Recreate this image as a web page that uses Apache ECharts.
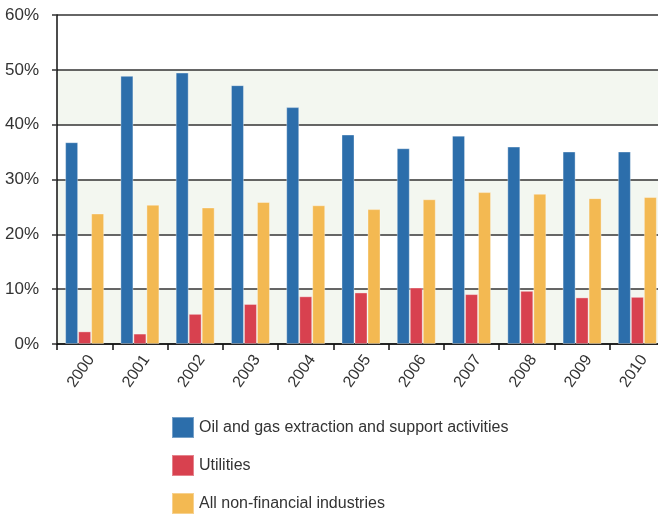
<!DOCTYPE html>
<html>
<head>
<meta charset="utf-8">
<script src="https://cdn.jsdelivr.net/npm/echarts@6/dist/echarts.min.js"></script>
<style>
  html, body { margin: 0; padding: 0; background: #fff; overflow: hidden; }
  /* 图表右侧被裁掉一点，和原图一致 */
  #chart { width: 666px; height: 517px; }
</style>
</head>
<body>
<div id="chart"></div>
<script>
// 年份
const years = ['2000', '2001', '2002', '2003', '2004', '2005', '2006', '2007', '2008', '2009', '2010']
// 各行业比例 (%)
const oilGas = [36.8, 48.9, 49.5, 47.2, 43.2, 38.2, 35.7, 38.0, 36.0, 35.1, 35.1]
const utilities = [2.3, 1.9, 5.5, 7.3, 8.7, 9.4, 10.3, 9.1, 9.7, 8.5, 8.6]
const allNonFin = [23.8, 25.4, 24.9, 25.9, 25.3, 24.6, 26.4, 27.7, 27.4, 26.6, 26.8]
const yTicks = [0, 10, 20, 30, 40, 50, 60]

const font = "'Liberation Sans', Arial, sans-serif"

const mycharts = echarts.init(document.querySelector('#chart'))

function bar(name, data, color) {
  return {
    name: name,
    type: 'bar',
    data: data,
    barWidth: 13,
    barGap: '0%',
    itemStyle: {
      color: color,
      borderColor: 'rgba(255,255,255,0.35)',
      borderWidth: 1
    }
  }
}

const option = {
  animation: false,
  textStyle: { fontFamily: font },
  legend: {
    orient: 'vertical',
    left: 166,
    top: 411,
    height: 110,
    itemWidth: 22,
    itemHeight: 21,
    itemGap: 15,
    icon: 'rect',
    textStyle: { fontSize: 16, color: '#333', fontFamily: font },
    data: ['Oil and gas extraction and support activities', 'Utilities', 'All non-financial industries']
  },
  grid: { left: 57, top: 15, width: 608, height: 329, containLabel: false },
  xAxis: {
    type: 'category',
    data: years,
    axisLine: { lineStyle: { color: '#111', width: 1.5 } },
    axisTick: { show: true, length: 6, lineStyle: { color: '#111', width: 1.5 } },
    axisLabel: { rotate: 55, fontSize: 16, color: '#333', margin: 8, verticalAlign: 'top', fontFamily: font }
  },
  yAxis: {
    type: 'value',
    min: yTicks[0],
    max: yTicks[yTicks.length - 1],
    interval: 10,
    axisLine: { show: true, lineStyle: { color: '#111', width: 1.5 } },
    axisTick: { show: true, length: 5, lineStyle: { color: '#333', width: 1.5 } },
    axisLabel: { formatter: '{value}%', fontSize: 17, color: '#333', margin: 18, fontFamily: font },
    splitLine: { show: true, lineStyle: { color: '#333', width: 1.5 } },
    splitArea: { show: true, areaStyle: { color: ['#f3f7f0', '#ffffff'] } }
  },
  series: [
    bar('Oil and gas extraction and support activities', oilGas, '#2c6eab'),
    bar('Utilities', utilities, '#d8414f'),
    bar('All non-financial industries', allNonFin, '#f3b952')
  ]
}
mycharts.setOption(option)
</script>
</body>
</html>
